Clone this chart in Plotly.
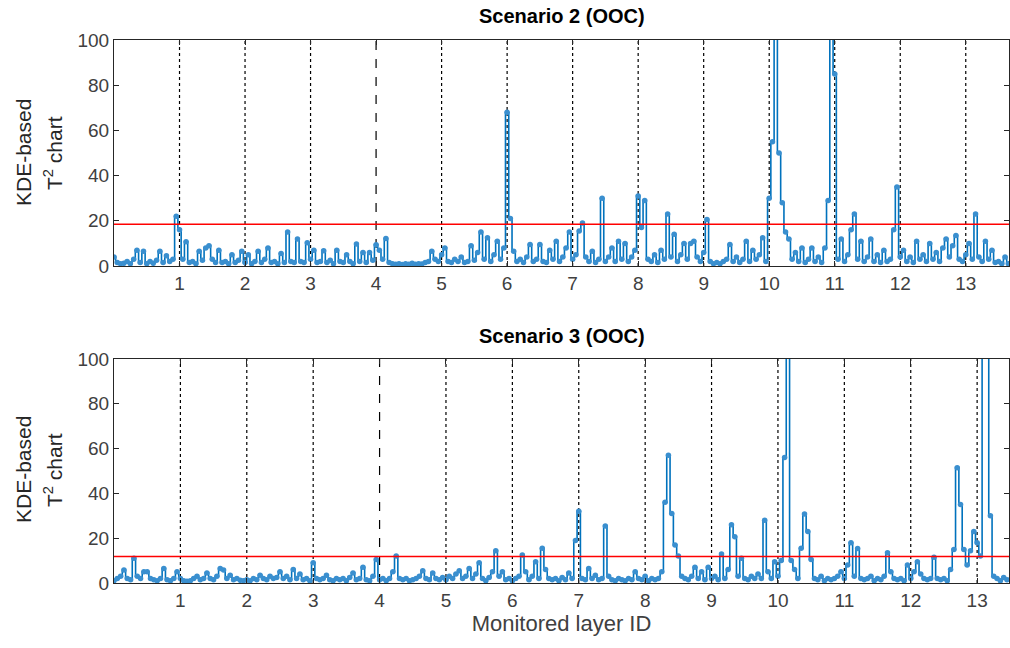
import numpy as np
import plotly.graph_objects as go

# ---------------- data (20 samples per layer unit) ----------------
samples_per_layer = 20
layer_ticks = list(range(1, 14))
threshold_s2 = 18.5
threshold_s3 = 11.8

s2_values = [
    # layer 0
    4, 1.5, 1, 1.2, 2, 1, 3, 7, 1.5, 6.5, 1, 2, 1.2, 2.5, 6.5, 1.5, 4.5, 2, 3, 22,
    # layer 1
    16, 3, 10.7, 1.5, 2, 1, 6.5, 2.5, 8, 9, 3, 1.5, 7, 1.5, 2, 1, 5, 1.5, 2.5, 6.5,
    # layer 2
    1.5, 5, 1, 2, 6.5, 1.5, 3, 8, 1.5, 2, 1, 5.5, 1.5, 15, 2, 1.5, 12, 2, 1.5, 10.3,
    # layer 3
    3, 7, 1.5, 2, 6.8, 1.5, 2.5, 1, 7, 2, 1.5, 5, 2, 1, 9.7, 2, 6, 1.5, 6, 2.5,
    # layer 4
    9.4, 7, 3, 12.2, 1.5, 1, 0.8, 1, 0.7, 1, 0.8, 1.2, 0.8, 1, 0.9, 1.5, 2, 6.5, 3, 2,
    # layer 5
    5, 8, 2, 1.5, 3, 2, 4, 1.5, 2, 9, 2.5, 6, 15, 3, 12.5, 2, 5, 11, 3, 8,
    # layer 6
    68, 21, 6.5, 2, 3, 1.5, 4, 9.5, 2, 3, 9.5, 2, 1.5, 7, 3, 11, 2, 4, 8, 15,
    # layer 7
    3, 5, 15.5, 19, 4, 2, 6.5, 1.5, 3, 30, 2, 4, 8, 2, 11, 3, 10, 2, 4, 7,
    # layer 8
    31, 17, 29, 3, 2, 5, 1.5, 7, 3, 23, 4, 14, 2, 5, 10, 3, 10, 11, 4, 2,
    # layer 9
    6, 20.6, 2, 1, 1.5, 1, 2, 3, 9.5, 2, 4, 1.5, 3, 11, 2, 7, 3, 5, 12.5, 2,
    # layer 10
    30, 55, 140, 50, 28, 15, 12, 3, 6, 2, 8, 1.5, 3, 8, 2, 4, 1.5, 8, 29, 140,
    # layer 11
    85, 3, 12, 2, 5, 16, 23, 3, 11, 2, 4, 12, 2, 5, 1.5, 7, 2, 3, 16, 35,
    # layer 12
    4, 7, 2, 4, 1.5, 11, 3, 5, 2, 10, 3, 6, 2, 8, 12, 4, 9, 13.5, 3, 2,
    # layer 13
    5, 10, 3, 23, 4, 2, 11, 3, 7, 1.5, 2, 1, 4, 1,
]

s3_values = [
    # layer 0
    1, 2, 3, 5.8, 2, 1.5, 11, 3, 2, 5, 5, 2, 1.5, 1, 2, 6.5, 1.5, 1, 2, 5,
    # layer 1
    2, 1, 0.8, 1, 2, 3, 1.5, 2, 4.5, 2, 1.5, 3, 6.5, 5.8, 2, 3.5, 1.5, 2, 1.2, 1,
    # layer 2
    1.5, 1, 2, 1.5, 3.5, 2, 1.5, 3, 2, 2.5, 5, 2, 3, 1.5, 6, 2, 4, 1.5, 2, 1,
    # layer 3
    9, 2, 1.5, 2, 3.5, 1.5, 1, 2, 1.5, 2, 1, 2.5, 4.5, 1.5, 2, 7, 1.5, 1, 3, 10.5,
    # layer 4
    1.5, 2, 1, 2, 5, 12, 2, 1.5, 2, 1, 1.5, 2, 3, 5.5, 2, 1.5, 4.5, 2, 1.5, 2.5,
    # layer 5
    1.5, 3, 2, 4, 5.5, 2, 3, 6.5, 2, 4, 9, 2, 1, 2.5, 5, 14.4, 3, 5, 1.5, 2,
    # layer 6
    1, 2, 3, 12.5, 5, 1.5, 3, 9.5, 2, 15.5, 6, 2, 1.5, 2, 1, 2.5, 1.5, 4.5, 2, 19,
    # layer 7
    32, 2, 1.5, 6.5, 2, 3.5, 1.5, 2, 25.4, 3, 1.5, 1, 2, 1.5, 1, 2, 1.5, 5, 2, 1.5,
    # layer 8
    3, 1, 2, 1.5, 2, 5, 36, 57, 31, 17, 12, 3, 2, 1.5, 3, 7, 2, 5, 1.5, 7,
    # layer 9
    2, 3, 1.5, 13, 2, 6, 26, 20.6, 3, 11, 2, 1.5, 3, 2, 4, 2, 28, 5, 2, 9.5,
    # layer 10
    3, 10, 56, 140, 10, 6, 2, 15.5, 30.8, 23, 10.5, 2, 1.5, 3, 1, 2, 1.5, 2, 3, 5,
    # layer 11
    2, 8, 18, 3, 15.4, 2, 1.5, 2, 3, 1, 2, 1.5, 3, 13.5, 5, 2, 1.5, 2, 1, 8,
    # layer 12
    2, 5, 9.5, 4, 2, 1.5, 2, 11.5, 2, 1.5, 2, 1, 6, 15, 51.5, 35, 15, 8, 14.4, 23,
    # layer 13
    18, 12, 130, 125, 30, 3, 2, 1, 2.5, 1.5,
]

s2_x = np.arange(len(s2_values)) / samples_per_layer
s3_x = np.arange(len(s3_values)) / samples_per_layer

# ---------------- figure ----------------
W, H = 1010, 648
ml, mr, mt, mb = 114, 1, 40, 65
plot_h = H - mt - mb
top_lo = (583 - 266) / plot_h
bot_hi = (583 - 359) / plot_h

fig = go.Figure()
blue = "#0072BD"
axis_col = "#262626"
FONT = "Liberation Sans, Arial, sans-serif"
tick_font = dict(family=FONT, size=19, color="#404040")

for xs, ys, xa, ya in ((s2_x, s2_values, "x", "y"), (s3_x, s3_values, "x2", "y2")):
    fig.add_trace(go.Scatter(x=xs, y=ys, mode="lines+markers",
                             line=dict(color=blue, width=1.6, shape="hvh"),
                             marker=dict(color="#3A8FCF", size=5.5),
                             xaxis=xa, yaxis=ya, showlegend=False))

common_x = dict(tickmode="array", tickvals=layer_ticks, ticktext=[str(t) for t in layer_ticks],
                ticks="inside", ticklen=5, tickcolor=axis_col, showline=True, linecolor=axis_col,
                linewidth=1, mirror="allticks", showgrid=False, zeroline=False,
                tickfont=tick_font)
common_y = dict(range=[0, 100], tickvals=[0, 20, 40, 60, 80, 100], ticks="inside", ticklen=5,
                tickcolor=axis_col, showline=True, linecolor=axis_col, linewidth=1,
                mirror="allticks", showgrid=False, zeroline=False, tickfont=tick_font)

fig.update_layout(
    width=W, height=H,
    margin=dict(l=ml, r=mr, t=mt, b=mb),
    paper_bgcolor="white", plot_bgcolor="white",
    xaxis=dict(domain=[0, 1], anchor="y", range=[0, 13.66], **common_x),
    yaxis=dict(domain=[top_lo, 1], anchor="x", **common_y),
    xaxis2=dict(domain=[0, 1], anchor="y2", range=[0, 13.48], **common_x,
                title=dict(text="Monitored layer ID", standoff=4,
                           font=dict(family=FONT, size=22, color="#404040"))),
    yaxis2=dict(domain=[0, bot_hi], anchor="x2", **common_y),
)

shapes = []
for xa, ya, thr in (("x", "y", threshold_s2), ("x2", "y2", threshold_s3)):
    for t in layer_ticks:
        shapes.append(dict(type="line", xref=xa, yref=ya + " domain", x0=t, x1=t, y0=0, y1=1,
                           line=dict(color="black", width=1.2, dash="dash" if t == 4 else "dot"),
                           layer="below"))
    shapes.append(dict(type="line", xref=xa + " domain", yref=ya, x0=0, x1=1, y0=thr, y1=thr,
                       line=dict(color="#FF0000", width=1.4), layer="above"))
fig.update_layout(shapes=shapes)

lab_font = dict(family=FONT, size=21, color="#262626")
title_font = dict(family=FONT, size=20, color="black")
annotations = []
for title, ytop, ycenter in (("Scenario 2 (OOC)", 16, 153), ("Scenario 3 (OOC)", 336, 470)):
    annotations.append(dict(text="<b>" + title + "</b>", xref="paper", yref="paper",
                            x=0.5, y=1 - (ytop - mt) / plot_h, xanchor="center", yanchor="middle",
                            showarrow=False, font=title_font))
    annotations.append(dict(text="KDE-based", xref="paper", yref="paper",
                            x=(23 - ml) / (W - ml - mr), y=1 - (ycenter - mt) / plot_h,
                            xanchor="center", yanchor="middle", textangle=-90,
                            showarrow=False, font=lab_font))
    annotations.append(dict(text="T<sup>2</sup> chart", xref="paper", yref="paper",
                            x=(53 - ml) / (W - ml - mr), y=1 - (ycenter - mt) / plot_h,
                            xanchor="center", yanchor="middle", textangle=-90,
                            showarrow=False, font=lab_font))
fig.update_layout(annotations=annotations)

fig.write_html("out.html")
